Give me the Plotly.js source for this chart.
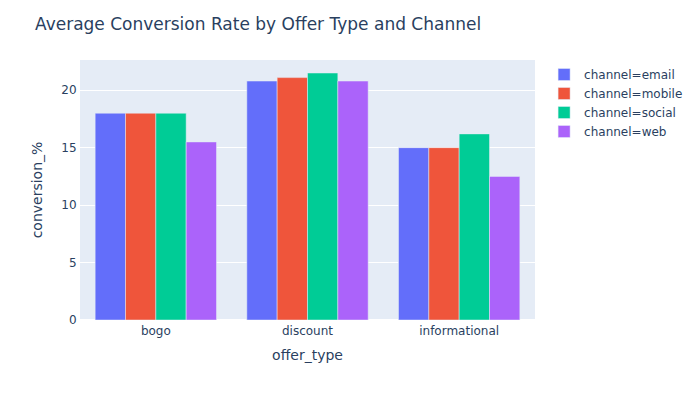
<!DOCTYPE html>
<html>
<head>
<meta charset="utf-8">
<script src="https://cdn.plot.ly/plotly-3.0.1.min.js"></script>
<style>html,body{margin:0;padding:0;}</style>
</head>
<body>
<div id="chart" style="width:700px;height:400px;"></div>
<script>
const offerTypes = ["bogo", "discount", "informational"];
const channels = ["email", "mobile", "social", "web"];
const emailValues = [18.0, 20.8, 15.0];
const mobileValues = [18.0, 21.1, 15.0];
const socialValues = [18.0, 21.5, 16.2];
const webValues = [15.5, 20.8, 12.5];
const colors = ["#636efa", "#EF553B", "#00cc96", "#ab63fa"];

const seriesValues = [emailValues, mobileValues, socialValues, webValues];
const data = channels.map((ch, i) => ({
  type: "bar",
  name: "channel=" + ch,
  x: offerTypes,
  y: seriesValues[i],
  marker: {color: colors[i], line: {color: "#E5ECF6", width: 0.5}},
  legendgroup: ch,
  hovertemplate: "channel=" + ch + "<br>offer_type=%{x}<br>conversion_%=%{y}<extra></extra>"
}));

const layout = {
  width: 700, height: 400,
  barmode: "group",
  title: {text: "Average Conversion Rate by Offer Type and Channel", x: 0.05, font: {size: 17, color: "#2a3f5f"}},
  font: {family: '"DejaVu Sans", verdana, arial, sans-serif', size: 12, color: "#2a3f5f"},
  paper_bgcolor: "white",
  plot_bgcolor: "#E5ECF6",
  margin: {t: 60, l: 80, r: 80, b: 80},
  xaxis: {title: {text: "offer_type", standoff: 12}, automargin: true, showgrid: false, gridcolor: "white", linecolor: "white", ticks: "", zerolinecolor: "white"},
  yaxis: {title: {text: "conversion_%"}, automargin: true, gridcolor: "white", linecolor: "white", ticks: "", zerolinecolor: "white", zerolinewidth: 2},
  legend: {tracegroupgap: 0}
};
Plotly.newPlot("chart", data, layout, {displayModeBar: false});
</script>
</body>
</html>
